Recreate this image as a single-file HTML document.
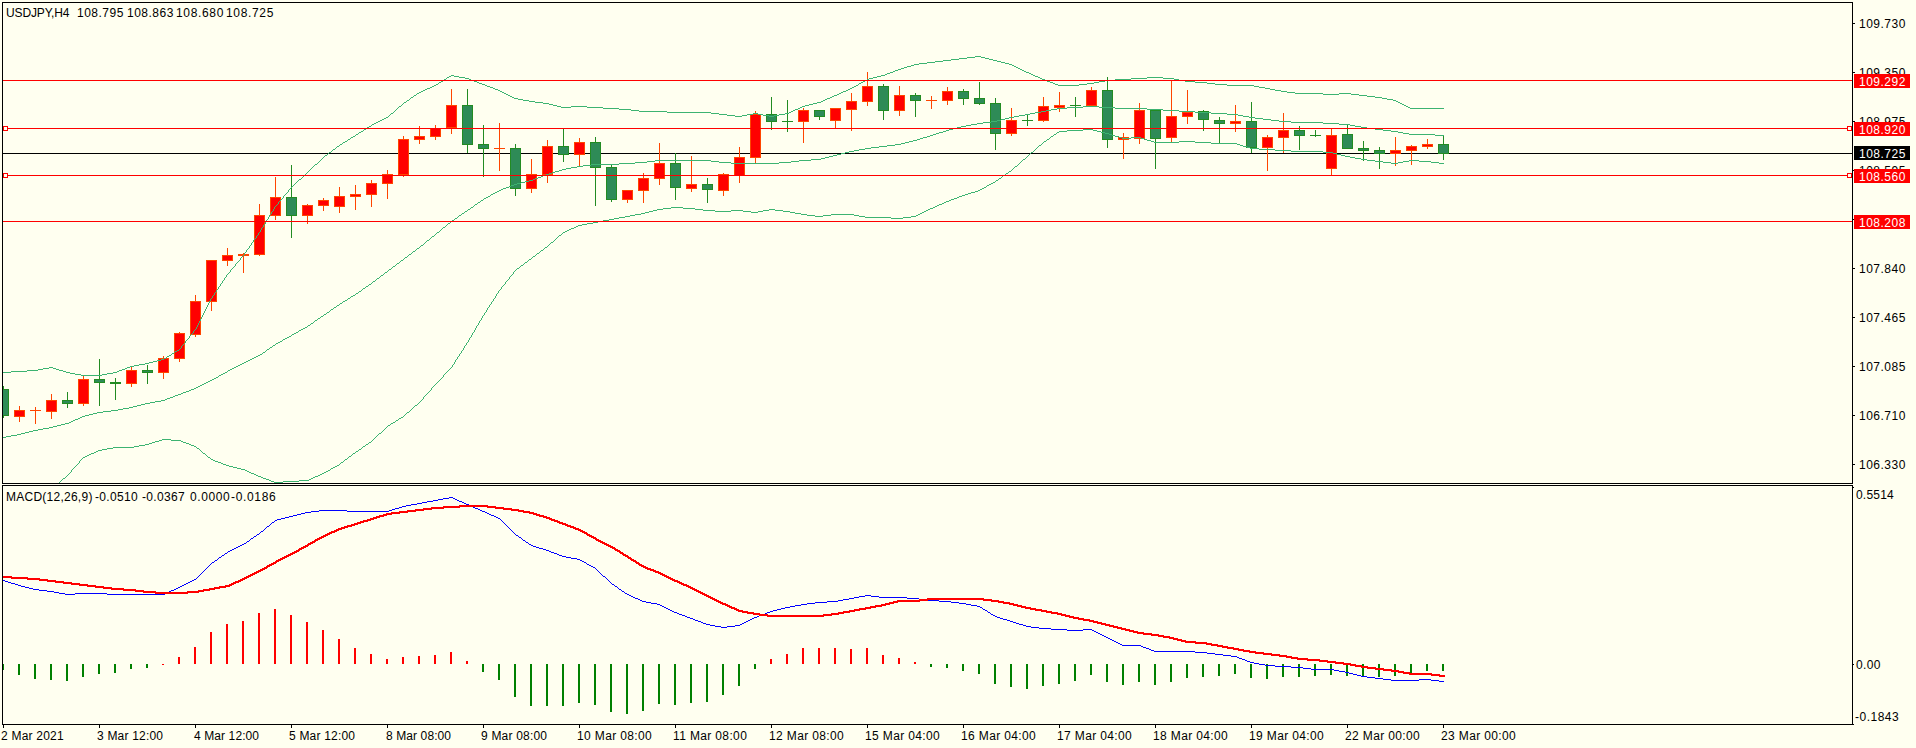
<!DOCTYPE html>
<html><head><meta charset="utf-8"><style>
html,body{margin:0;padding:0;background:#FFFFF0;overflow:hidden;}
svg{display:block;}
text{font-family:"Liberation Sans", sans-serif;font-size:12px;}
</style></head><body>
<svg width="1916" height="748" viewBox="0 0 1916 748">
<rect x="0" y="0" width="1916" height="748" fill="#FFFFF0"/>
<defs>
<clipPath id="cm"><rect x="3" y="3" width="1849" height="480"/></clipPath>
<clipPath id="cs"><rect x="3" y="486" width="1849" height="238"/></clipPath>
</defs>

<g shape-rendering="crispEdges">
<rect x="3" y="153" width="1849" height="1" fill="#000000"/>
<rect x="3" y="386" width="1" height="32" fill="#228B22"/>
<rect x="3" y="389" width="6" height="27" fill="#228B22"/>
<rect x="3" y="390" width="5" height="25" fill="#2E8B57"/>
<rect x="19" y="406" width="1" height="16" fill="#FF4500"/>
<rect x="14" y="410" width="11" height="7" fill="#FF4500"/>
<rect x="15" y="411" width="9" height="5" fill="#FF0000"/>
<rect x="35" y="407" width="1" height="17" fill="#FF4500"/>
<rect x="30" y="410" width="11" height="1" fill="#FF4500"/>
<rect x="51" y="394" width="1" height="25" fill="#FF4500"/>
<rect x="46" y="400" width="11" height="12" fill="#FF4500"/>
<rect x="47" y="401" width="9" height="10" fill="#FF0000"/>
<rect x="67" y="392" width="1" height="16" fill="#228B22"/>
<rect x="62" y="400" width="11" height="4" fill="#228B22"/>
<rect x="63" y="401" width="9" height="2" fill="#2E8B57"/>
<rect x="83" y="376" width="1" height="30" fill="#FF4500"/>
<rect x="78" y="379" width="11" height="25" fill="#FF4500"/>
<rect x="79" y="380" width="9" height="23" fill="#FF0000"/>
<rect x="99" y="359" width="1" height="47" fill="#228B22"/>
<rect x="94" y="379" width="11" height="4" fill="#228B22"/>
<rect x="95" y="380" width="9" height="2" fill="#2E8B57"/>
<rect x="115" y="378" width="1" height="22" fill="#228B22"/>
<rect x="110" y="382" width="11" height="2" fill="#228B22"/>
<rect x="131" y="367" width="1" height="20" fill="#FF4500"/>
<rect x="126" y="370" width="11" height="14" fill="#FF4500"/>
<rect x="127" y="371" width="9" height="12" fill="#FF0000"/>
<rect x="147" y="365" width="1" height="19" fill="#228B22"/>
<rect x="142" y="370" width="11" height="3" fill="#228B22"/>
<rect x="143" y="371" width="9" height="1" fill="#2E8B57"/>
<rect x="163" y="356" width="1" height="23" fill="#FF4500"/>
<rect x="158" y="358" width="11" height="15" fill="#FF4500"/>
<rect x="159" y="359" width="9" height="13" fill="#FF0000"/>
<rect x="179" y="332" width="1" height="30" fill="#FF4500"/>
<rect x="174" y="333" width="11" height="26" fill="#FF4500"/>
<rect x="175" y="334" width="9" height="24" fill="#FF0000"/>
<rect x="195" y="295" width="1" height="42" fill="#FF4500"/>
<rect x="190" y="301" width="11" height="34" fill="#FF4500"/>
<rect x="191" y="302" width="9" height="32" fill="#FF0000"/>
<rect x="211" y="260" width="1" height="51" fill="#FF4500"/>
<rect x="206" y="260" width="11" height="42" fill="#FF4500"/>
<rect x="207" y="261" width="9" height="40" fill="#FF0000"/>
<rect x="227" y="248" width="1" height="18" fill="#FF4500"/>
<rect x="222" y="255" width="11" height="6" fill="#FF4500"/>
<rect x="223" y="256" width="9" height="4" fill="#FF0000"/>
<rect x="243" y="253" width="1" height="20" fill="#FF4500"/>
<rect x="238" y="254" width="11" height="2" fill="#FF4500"/>
<rect x="259" y="204" width="1" height="52" fill="#FF4500"/>
<rect x="254" y="215" width="11" height="40" fill="#FF4500"/>
<rect x="255" y="216" width="9" height="38" fill="#FF0000"/>
<rect x="275" y="177" width="1" height="43" fill="#FF4500"/>
<rect x="270" y="197" width="11" height="19" fill="#FF4500"/>
<rect x="271" y="198" width="9" height="17" fill="#FF0000"/>
<rect x="291" y="165" width="1" height="73" fill="#228B22"/>
<rect x="286" y="197" width="11" height="19" fill="#228B22"/>
<rect x="287" y="198" width="9" height="17" fill="#2E8B57"/>
<rect x="307" y="204" width="1" height="20" fill="#FF4500"/>
<rect x="302" y="205" width="11" height="11" fill="#FF4500"/>
<rect x="303" y="206" width="9" height="9" fill="#FF0000"/>
<rect x="323" y="198" width="1" height="13" fill="#FF4500"/>
<rect x="318" y="200" width="11" height="6" fill="#FF4500"/>
<rect x="319" y="201" width="9" height="4" fill="#FF0000"/>
<rect x="339" y="187" width="1" height="26" fill="#FF4500"/>
<rect x="334" y="196" width="11" height="11" fill="#FF4500"/>
<rect x="335" y="197" width="9" height="9" fill="#FF0000"/>
<rect x="355" y="185" width="1" height="25" fill="#FF4500"/>
<rect x="350" y="194" width="11" height="3" fill="#FF4500"/>
<rect x="351" y="195" width="9" height="1" fill="#FF0000"/>
<rect x="371" y="180" width="1" height="27" fill="#FF4500"/>
<rect x="366" y="183" width="11" height="12" fill="#FF4500"/>
<rect x="367" y="184" width="9" height="10" fill="#FF0000"/>
<rect x="387" y="170" width="1" height="29" fill="#FF4500"/>
<rect x="382" y="174" width="11" height="10" fill="#FF4500"/>
<rect x="383" y="175" width="9" height="8" fill="#FF0000"/>
<rect x="403" y="136" width="1" height="41" fill="#FF4500"/>
<rect x="398" y="139" width="11" height="36" fill="#FF4500"/>
<rect x="399" y="140" width="9" height="34" fill="#FF0000"/>
<rect x="419" y="126" width="1" height="18" fill="#FF4500"/>
<rect x="414" y="136" width="11" height="4" fill="#FF4500"/>
<rect x="415" y="137" width="9" height="2" fill="#FF0000"/>
<rect x="435" y="125" width="1" height="15" fill="#FF4500"/>
<rect x="430" y="128" width="11" height="9" fill="#FF4500"/>
<rect x="431" y="129" width="9" height="7" fill="#FF0000"/>
<rect x="451" y="89" width="1" height="45" fill="#FF4500"/>
<rect x="446" y="105" width="11" height="23" fill="#FF4500"/>
<rect x="447" y="106" width="9" height="21" fill="#FF0000"/>
<rect x="467" y="89" width="1" height="64" fill="#228B22"/>
<rect x="462" y="105" width="11" height="40" fill="#228B22"/>
<rect x="463" y="106" width="9" height="38" fill="#2E8B57"/>
<rect x="483" y="125" width="1" height="52" fill="#228B22"/>
<rect x="478" y="144" width="11" height="5" fill="#228B22"/>
<rect x="479" y="145" width="9" height="3" fill="#2E8B57"/>
<rect x="499" y="123" width="1" height="48" fill="#FF4500"/>
<rect x="494" y="148" width="11" height="1" fill="#FF4500"/>
<rect x="515" y="144" width="1" height="52" fill="#228B22"/>
<rect x="510" y="148" width="11" height="41" fill="#228B22"/>
<rect x="511" y="149" width="9" height="39" fill="#2E8B57"/>
<rect x="531" y="159" width="1" height="34" fill="#FF4500"/>
<rect x="526" y="174" width="11" height="15" fill="#FF4500"/>
<rect x="527" y="175" width="9" height="13" fill="#FF0000"/>
<rect x="547" y="140" width="1" height="43" fill="#FF4500"/>
<rect x="542" y="146" width="11" height="29" fill="#FF4500"/>
<rect x="543" y="147" width="9" height="27" fill="#FF0000"/>
<rect x="563" y="129" width="1" height="33" fill="#228B22"/>
<rect x="558" y="146" width="11" height="9" fill="#228B22"/>
<rect x="559" y="147" width="9" height="7" fill="#2E8B57"/>
<rect x="579" y="138" width="1" height="28" fill="#FF4500"/>
<rect x="574" y="142" width="11" height="13" fill="#FF4500"/>
<rect x="575" y="143" width="9" height="11" fill="#FF0000"/>
<rect x="595" y="137" width="1" height="69" fill="#228B22"/>
<rect x="590" y="142" width="11" height="26" fill="#228B22"/>
<rect x="591" y="143" width="9" height="24" fill="#2E8B57"/>
<rect x="611" y="165" width="1" height="37" fill="#228B22"/>
<rect x="606" y="167" width="11" height="33" fill="#228B22"/>
<rect x="607" y="168" width="9" height="31" fill="#2E8B57"/>
<rect x="627" y="190" width="1" height="13" fill="#FF4500"/>
<rect x="622" y="190" width="11" height="10" fill="#FF4500"/>
<rect x="623" y="191" width="9" height="8" fill="#FF0000"/>
<rect x="643" y="173" width="1" height="30" fill="#FF4500"/>
<rect x="638" y="178" width="11" height="13" fill="#FF4500"/>
<rect x="639" y="179" width="9" height="11" fill="#FF0000"/>
<rect x="659" y="143" width="1" height="42" fill="#FF4500"/>
<rect x="654" y="163" width="11" height="16" fill="#FF4500"/>
<rect x="655" y="164" width="9" height="14" fill="#FF0000"/>
<rect x="675" y="153" width="1" height="47" fill="#228B22"/>
<rect x="670" y="163" width="11" height="25" fill="#228B22"/>
<rect x="671" y="164" width="9" height="23" fill="#2E8B57"/>
<rect x="691" y="156" width="1" height="36" fill="#FF4500"/>
<rect x="686" y="184" width="11" height="5" fill="#FF4500"/>
<rect x="687" y="185" width="9" height="3" fill="#FF0000"/>
<rect x="707" y="178" width="1" height="25" fill="#228B22"/>
<rect x="702" y="184" width="11" height="6" fill="#228B22"/>
<rect x="703" y="185" width="9" height="4" fill="#2E8B57"/>
<rect x="723" y="173" width="1" height="23" fill="#FF4500"/>
<rect x="718" y="174" width="11" height="17" fill="#FF4500"/>
<rect x="719" y="175" width="9" height="15" fill="#FF0000"/>
<rect x="739" y="147" width="1" height="36" fill="#FF4500"/>
<rect x="734" y="157" width="11" height="19" fill="#FF4500"/>
<rect x="735" y="158" width="9" height="17" fill="#FF0000"/>
<rect x="755" y="111" width="1" height="52" fill="#FF4500"/>
<rect x="750" y="114" width="11" height="44" fill="#FF4500"/>
<rect x="751" y="115" width="9" height="42" fill="#FF0000"/>
<rect x="771" y="97" width="1" height="33" fill="#228B22"/>
<rect x="766" y="114" width="11" height="8" fill="#228B22"/>
<rect x="767" y="115" width="9" height="6" fill="#2E8B57"/>
<rect x="787" y="100" width="1" height="32" fill="#228B22"/>
<rect x="782" y="121" width="11" height="1" fill="#228B22"/>
<rect x="803" y="108" width="1" height="35" fill="#FF4500"/>
<rect x="798" y="110" width="11" height="12" fill="#FF4500"/>
<rect x="799" y="111" width="9" height="10" fill="#FF0000"/>
<rect x="819" y="110" width="1" height="10" fill="#228B22"/>
<rect x="814" y="110" width="11" height="7" fill="#228B22"/>
<rect x="815" y="111" width="9" height="5" fill="#2E8B57"/>
<rect x="835" y="108" width="1" height="20" fill="#FF4500"/>
<rect x="830" y="108" width="11" height="13" fill="#FF4500"/>
<rect x="831" y="109" width="9" height="11" fill="#FF0000"/>
<rect x="851" y="93" width="1" height="38" fill="#FF4500"/>
<rect x="846" y="101" width="11" height="9" fill="#FF4500"/>
<rect x="847" y="102" width="9" height="7" fill="#FF0000"/>
<rect x="867" y="72" width="1" height="34" fill="#FF4500"/>
<rect x="862" y="86" width="11" height="16" fill="#FF4500"/>
<rect x="863" y="87" width="9" height="14" fill="#FF0000"/>
<rect x="883" y="84" width="1" height="36" fill="#228B22"/>
<rect x="878" y="86" width="11" height="25" fill="#228B22"/>
<rect x="879" y="87" width="9" height="23" fill="#2E8B57"/>
<rect x="899" y="86" width="1" height="30" fill="#FF4500"/>
<rect x="894" y="95" width="11" height="16" fill="#FF4500"/>
<rect x="895" y="96" width="9" height="14" fill="#FF0000"/>
<rect x="915" y="93" width="1" height="24" fill="#228B22"/>
<rect x="910" y="95" width="11" height="6" fill="#228B22"/>
<rect x="911" y="96" width="9" height="4" fill="#2E8B57"/>
<rect x="931" y="96" width="1" height="13" fill="#FF4500"/>
<rect x="926" y="100" width="11" height="1" fill="#FF4500"/>
<rect x="947" y="87" width="1" height="18" fill="#FF4500"/>
<rect x="942" y="91" width="11" height="10" fill="#FF4500"/>
<rect x="943" y="92" width="9" height="8" fill="#FF0000"/>
<rect x="963" y="89" width="1" height="16" fill="#228B22"/>
<rect x="958" y="91" width="11" height="8" fill="#228B22"/>
<rect x="959" y="92" width="9" height="6" fill="#2E8B57"/>
<rect x="979" y="82" width="1" height="23" fill="#228B22"/>
<rect x="974" y="98" width="11" height="6" fill="#228B22"/>
<rect x="975" y="99" width="9" height="4" fill="#2E8B57"/>
<rect x="995" y="98" width="1" height="52" fill="#228B22"/>
<rect x="990" y="103" width="11" height="31" fill="#228B22"/>
<rect x="991" y="104" width="9" height="29" fill="#2E8B57"/>
<rect x="1011" y="108" width="1" height="28" fill="#FF4500"/>
<rect x="1006" y="120" width="11" height="14" fill="#FF4500"/>
<rect x="1007" y="121" width="9" height="12" fill="#FF0000"/>
<rect x="1027" y="114" width="1" height="12" fill="#228B22"/>
<rect x="1022" y="120" width="11" height="1" fill="#228B22"/>
<rect x="1043" y="97" width="1" height="25" fill="#FF4500"/>
<rect x="1038" y="106" width="11" height="15" fill="#FF4500"/>
<rect x="1039" y="107" width="9" height="13" fill="#FF0000"/>
<rect x="1059" y="92" width="1" height="20" fill="#FF4500"/>
<rect x="1054" y="105" width="11" height="3" fill="#FF4500"/>
<rect x="1055" y="106" width="9" height="1" fill="#FF0000"/>
<rect x="1075" y="97" width="1" height="20" fill="#228B22"/>
<rect x="1070" y="105" width="11" height="1" fill="#228B22"/>
<rect x="1091" y="87" width="1" height="19" fill="#FF4500"/>
<rect x="1086" y="90" width="11" height="16" fill="#FF4500"/>
<rect x="1087" y="91" width="9" height="14" fill="#FF0000"/>
<rect x="1107" y="77" width="1" height="71" fill="#228B22"/>
<rect x="1102" y="90" width="11" height="50" fill="#228B22"/>
<rect x="1103" y="91" width="9" height="48" fill="#2E8B57"/>
<rect x="1123" y="133" width="1" height="26" fill="#FF4500"/>
<rect x="1118" y="137" width="11" height="3" fill="#FF4500"/>
<rect x="1119" y="138" width="9" height="1" fill="#FF0000"/>
<rect x="1139" y="103" width="1" height="41" fill="#FF4500"/>
<rect x="1134" y="110" width="11" height="29" fill="#FF4500"/>
<rect x="1135" y="111" width="9" height="27" fill="#FF0000"/>
<rect x="1155" y="110" width="1" height="59" fill="#228B22"/>
<rect x="1150" y="110" width="11" height="29" fill="#228B22"/>
<rect x="1151" y="111" width="9" height="27" fill="#2E8B57"/>
<rect x="1171" y="80" width="1" height="62" fill="#FF4500"/>
<rect x="1166" y="116" width="11" height="22" fill="#FF4500"/>
<rect x="1167" y="117" width="9" height="20" fill="#FF0000"/>
<rect x="1187" y="90" width="1" height="34" fill="#FF4500"/>
<rect x="1182" y="112" width="11" height="5" fill="#FF4500"/>
<rect x="1183" y="113" width="9" height="3" fill="#FF0000"/>
<rect x="1203" y="110" width="1" height="21" fill="#228B22"/>
<rect x="1198" y="111" width="11" height="9" fill="#228B22"/>
<rect x="1199" y="112" width="9" height="7" fill="#2E8B57"/>
<rect x="1219" y="117" width="1" height="26" fill="#228B22"/>
<rect x="1214" y="120" width="11" height="4" fill="#228B22"/>
<rect x="1215" y="121" width="9" height="2" fill="#2E8B57"/>
<rect x="1235" y="105" width="1" height="27" fill="#FF4500"/>
<rect x="1230" y="121" width="11" height="3" fill="#FF4500"/>
<rect x="1231" y="122" width="9" height="1" fill="#FF0000"/>
<rect x="1251" y="102" width="1" height="51" fill="#228B22"/>
<rect x="1246" y="121" width="11" height="27" fill="#228B22"/>
<rect x="1247" y="122" width="9" height="25" fill="#2E8B57"/>
<rect x="1267" y="135" width="1" height="36" fill="#FF4500"/>
<rect x="1262" y="137" width="11" height="11" fill="#FF4500"/>
<rect x="1263" y="138" width="9" height="9" fill="#FF0000"/>
<rect x="1283" y="113" width="1" height="40" fill="#FF4500"/>
<rect x="1278" y="130" width="11" height="8" fill="#FF4500"/>
<rect x="1279" y="131" width="9" height="6" fill="#FF0000"/>
<rect x="1299" y="126" width="1" height="24" fill="#228B22"/>
<rect x="1294" y="130" width="11" height="6" fill="#228B22"/>
<rect x="1295" y="131" width="9" height="4" fill="#2E8B57"/>
<rect x="1315" y="130" width="1" height="7" fill="#228B22"/>
<rect x="1310" y="135" width="11" height="1" fill="#228B22"/>
<rect x="1331" y="129" width="1" height="46" fill="#FF4500"/>
<rect x="1326" y="135" width="11" height="34" fill="#FF4500"/>
<rect x="1327" y="136" width="9" height="32" fill="#FF0000"/>
<rect x="1347" y="124" width="1" height="25" fill="#228B22"/>
<rect x="1342" y="134" width="11" height="15" fill="#228B22"/>
<rect x="1343" y="135" width="9" height="13" fill="#2E8B57"/>
<rect x="1363" y="141" width="1" height="20" fill="#228B22"/>
<rect x="1358" y="148" width="11" height="3" fill="#228B22"/>
<rect x="1359" y="149" width="9" height="1" fill="#2E8B57"/>
<rect x="1379" y="147" width="1" height="22" fill="#228B22"/>
<rect x="1374" y="150" width="11" height="4" fill="#228B22"/>
<rect x="1375" y="151" width="9" height="2" fill="#2E8B57"/>
<rect x="1395" y="137" width="1" height="29" fill="#FF4500"/>
<rect x="1390" y="150" width="11" height="4" fill="#FF4500"/>
<rect x="1391" y="151" width="9" height="2" fill="#FF0000"/>
<rect x="1411" y="145" width="1" height="20" fill="#FF4500"/>
<rect x="1406" y="146" width="11" height="5" fill="#FF4500"/>
<rect x="1407" y="147" width="9" height="3" fill="#FF0000"/>
<rect x="1427" y="139" width="1" height="10" fill="#FF4500"/>
<rect x="1422" y="144" width="11" height="3" fill="#FF4500"/>
<rect x="1423" y="145" width="9" height="1" fill="#FF0000"/>
<rect x="1443" y="136" width="1" height="24" fill="#228B22"/>
<rect x="1438" y="144" width="11" height="10" fill="#228B22"/>
<rect x="1439" y="145" width="9" height="8" fill="#2E8B57"/>
<path fill="#3CB371" d="M975 56h6v1h-6zM967 57h8v1h-8zM981 57h4v1h-4zM959 58h8v1h-8zM985 58h4v1h-4zM951 59h8v1h-8zM989 59h4v1h-4zM943 60h8v1h-8zM993 60h4v1h-4zM935 61h8v1h-8zM997 61h4v1h-4zM927 62h8v1h-8zM1001 62h4v1h-4zM919 63h8v1h-8zM1005 63h4v1h-4zM914 64h5v1h-5zM1009 64h3v1h-3zM911 65h3v1h-3zM1012 65h2v1h-2zM907 66h4v1h-4zM1014 66h2v1h-2zM904 67h3v1h-3zM1016 67h2v1h-2zM901 68h3v1h-3zM1018 68h2v1h-2zM898 69h3v1h-3zM1020 69h2v1h-2zM895 70h3v1h-3zM1022 70h2v1h-2zM893 71h2v1h-2zM1024 71h2v1h-2zM890 72h3v1h-3zM1026 72h3v1h-3zM887 73h3v1h-3zM1029 73h2v1h-2zM885 74h2v1h-2zM1031 74h2v1h-2zM451 75h3v1h-3zM881 75h4v1h-4zM1033 75h2v1h-2zM449 76h2v1h-2zM454 76h5v1h-5zM877 76h4v1h-4zM1035 76h3v1h-3zM447 77h2v1h-2zM459 77h6v1h-6zM873 77h4v1h-4zM1038 77h2v1h-2zM1147 77h16v1h-16zM446 78h1v1h-1zM465 78h4v1h-4zM869 78h4v1h-4zM1040 78h2v1h-2zM1131 78h16v1h-16zM1163 78h11v1h-11zM444 79h2v1h-2zM469 79h2v1h-2zM867 79h2v1h-2zM1042 79h3v1h-3zM1115 79h16v1h-16zM1174 79h5v1h-5zM443 80h1v1h-1zM471 80h3v1h-3zM865 80h2v1h-2zM1045 80h2v1h-2zM1105 80h10v1h-10zM1179 80h6v1h-6zM441 81h2v1h-2zM474 81h3v1h-3zM863 81h2v1h-2zM1047 81h3v1h-3zM1099 81h6v1h-6zM1185 81h10v1h-10zM439 82h2v1h-2zM477 82h2v1h-2zM861 82h2v1h-2zM1050 82h3v1h-3zM1094 82h5v1h-5zM1195 82h12v1h-12zM438 83h1v1h-1zM479 83h3v1h-3zM859 83h2v1h-2zM1053 83h2v1h-2zM1087 83h7v1h-7zM1207 83h8v1h-8zM436 84h2v1h-2zM482 84h3v1h-3zM858 84h1v1h-1zM1055 84h3v1h-3zM1079 84h8v1h-8zM1215 84h12v1h-12zM434 85h2v1h-2zM485 85h2v1h-2zM856 85h2v1h-2zM1058 85h21v1h-21zM1227 85h27v1h-27zM432 86h2v1h-2zM487 86h3v1h-3zM854 86h2v1h-2zM1254 86h5v1h-5zM430 87h2v1h-2zM490 87h3v1h-3zM852 87h2v1h-2zM1259 87h6v1h-6zM427 88h3v1h-3zM493 88h2v1h-2zM850 88h2v1h-2zM1265 88h5v1h-5zM425 89h2v1h-2zM495 89h3v1h-3zM848 89h2v1h-2zM1270 89h5v1h-5zM423 90h2v1h-2zM498 90h2v1h-2zM846 90h2v1h-2zM1275 90h6v1h-6zM421 91h2v1h-2zM500 91h2v1h-2zM843 91h3v1h-3zM1281 91h6v1h-6zM419 92h2v1h-2zM502 92h2v1h-2zM841 92h2v1h-2zM1287 92h8v1h-8zM417 93h2v1h-2zM504 93h2v1h-2zM839 93h2v1h-2zM1295 93h28v1h-28zM1339 93h12v1h-12zM416 94h1v1h-1zM506 94h2v1h-2zM837 94h2v1h-2zM1323 94h16v1h-16zM1351 94h8v1h-8zM414 95h2v1h-2zM508 95h2v1h-2zM834 95h3v1h-3zM1359 95h8v1h-8zM413 96h1v1h-1zM510 96h2v1h-2zM832 96h2v1h-2zM1367 96h8v1h-8zM411 97h2v1h-2zM512 97h2v1h-2zM830 97h2v1h-2zM1375 97h7v1h-7zM410 98h1v1h-1zM514 98h4v1h-4zM827 98h3v1h-3zM1382 98h5v1h-5zM409 99h1v1h-1zM518 99h5v1h-5zM825 99h2v1h-2zM1387 99h6v1h-6zM407 100h2v1h-2zM523 100h6v1h-6zM823 100h2v1h-2zM1393 100h3v1h-3zM406 101h1v1h-1zM529 101h6v1h-6zM821 101h2v1h-2zM1396 101h2v1h-2zM404 102h2v1h-2zM535 102h8v1h-8zM817 102h4v1h-4zM1398 102h2v1h-2zM403 103h1v1h-1zM543 103h6v1h-6zM813 103h4v1h-4zM1400 103h2v1h-2zM402 104h1v1h-1zM549 104h4v1h-4zM809 104h4v1h-4zM1402 104h2v1h-2zM401 105h1v1h-1zM553 105h4v1h-4zM805 105h4v1h-4zM1404 105h2v1h-2zM399 106h2v1h-2zM557 106h4v1h-4zM571 106h16v1h-16zM802 106h3v1h-3zM1406 106h2v1h-2zM398 107h1v1h-1zM561 107h10v1h-10zM587 107h16v1h-16zM800 107h2v1h-2zM1408 107h2v1h-2zM397 108h1v1h-1zM603 108h16v1h-16zM798 108h2v1h-2zM1410 108h34v1h-34zM396 109h1v1h-1zM619 109h12v1h-12zM795 109h3v1h-3zM395 110h1v1h-1zM631 110h8v1h-8zM793 110h2v1h-2zM394 111h1v1h-1zM639 111h28v1h-28zM791 111h2v1h-2zM393 112h1v1h-1zM667 112h44v1h-44zM789 112h2v1h-2zM391 113h2v1h-2zM711 113h8v1h-8zM753 113h5v1h-5zM785 113h4v1h-4zM390 114h1v1h-1zM719 114h8v1h-8zM747 114h6v1h-6zM758 114h5v1h-5zM779 114h6v1h-6zM389 115h1v1h-1zM727 115h8v1h-8zM742 115h5v1h-5zM763 115h6v1h-6zM774 115h5v1h-5zM388 116h1v1h-1zM735 116h7v1h-7zM769 116h5v1h-5zM386 117h2v1h-2zM384 118h2v1h-2zM382 119h2v1h-2zM380 120h2v1h-2zM378 121h2v1h-2zM376 122h2v1h-2zM374 123h2v1h-2zM372 124h2v1h-2zM371 125h1v1h-1zM369 126h2v1h-2zM367 127h2v1h-2zM366 128h1v1h-1zM364 129h2v1h-2zM363 130h1v1h-1zM361 131h2v1h-2zM359 132h2v1h-2zM358 133h1v1h-1zM356 134h2v1h-2zM355 135h1v1h-1zM353 136h2v1h-2zM351 137h2v1h-2zM350 138h1v1h-1zM348 139h2v1h-2zM347 140h1v1h-1zM345 141h2v1h-2zM343 142h2v1h-2zM342 143h1v1h-1zM340 144h2v1h-2zM339 145h1v1h-1zM337 146h2v1h-2zM336 147h1v1h-1zM335 148h1v1h-1zM333 149h2v1h-2zM332 150h1v1h-1zM331 151h1v1h-1zM329 152h2v1h-2zM328 153h1v1h-1zM327 154h1v1h-1zM325 155h2v1h-2zM324 156h1v1h-1zM323 157h1v1h-1zM322 158h1v1h-1zM321 159h1v1h-1zM320 160h1v1h-1zM319 161h1v1h-1zM318 162h1v1h-1zM317 163h1v1h-1zM315 164h2v1h-2zM314 165h1v1h-1zM313 166h1v1h-1zM312 167h1v1h-1zM311 168h1v1h-1zM310 169h1v1h-1zM309 170h1v1h-1zM308 171h1v1h-1zM307 172h1v1h-1zM306 173h1v1h-1zM305 174h1v1h-1zM304 175h1v1h-1zM303 176h1v1h-1zM302 177h1v1h-1zM301 178h1v1h-1zM299 179h2v1h-2zM298 180h1v1h-1zM297 181h1v1h-1zM296 182h1v1h-1zM295 183h1v1h-1zM294 184h1v1h-1zM293 185h1v1h-1zM292 186h1v1h-1zM291 187h1v1h-1zM290 188h1v1h-1zM289 189h1v1h-1zM288 190h1v1h-1zM288 191h1v1h-1zM287 192h1v1h-1zM286 193h1v1h-1zM285 194h1v1h-1zM284 195h1v1h-1zM283 196h1v1h-1zM283 197h1v1h-1zM282 198h1v1h-1zM281 199h1v1h-1zM280 200h1v1h-1zM279 201h1v1h-1zM278 202h1v1h-1zM278 203h1v1h-1zM277 204h1v1h-1zM276 205h1v1h-1zM275 206h1v1h-1zM274 207h1v1h-1zM274 208h1v1h-1zM273 209h1v1h-1zM273 210h1v1h-1zM272 211h1v1h-1zM271 212h1v1h-1zM271 213h1v1h-1zM270 214h1v1h-1zM269 215h1v1h-1zM269 216h1v1h-1zM268 217h1v1h-1zM268 218h1v1h-1zM267 219h1v1h-1zM266 220h1v1h-1zM266 221h1v1h-1zM265 222h1v1h-1zM265 223h1v1h-1zM264 224h1v1h-1zM263 225h1v1h-1zM263 226h1v1h-1zM262 227h1v1h-1zM261 228h1v1h-1zM261 229h1v1h-1zM260 230h1v1h-1zM260 231h1v1h-1zM259 232h1v1h-1zM258 233h1v1h-1zM258 234h1v1h-1zM257 235h1v1h-1zM256 236h1v1h-1zM256 237h1v1h-1zM255 238h1v1h-1zM254 239h1v1h-1zM253 240h1v1h-1zM253 241h1v1h-1zM252 242h1v1h-1zM251 243h1v1h-1zM251 244h1v1h-1zM250 245h1v1h-1zM249 246h1v1h-1zM249 247h1v1h-1zM248 248h1v1h-1zM247 249h1v1h-1zM246 250h1v1h-1zM246 251h1v1h-1zM245 252h1v1h-1zM244 253h1v1h-1zM244 254h1v1h-1zM243 255h1v1h-1zM242 256h1v1h-1zM241 257h1v1h-1zM240 258h1v1h-1zM240 259h1v1h-1zM239 260h1v1h-1zM238 261h1v1h-1zM237 262h1v1h-1zM236 263h1v1h-1zM235 264h1v1h-1zM235 265h1v1h-1zM234 266h1v1h-1zM233 267h1v1h-1zM232 268h1v1h-1zM231 269h1v1h-1zM230 270h1v1h-1zM230 271h1v1h-1zM229 272h1v1h-1zM228 273h1v1h-1zM227 274h1v1h-1zM226 275h1v1h-1zM226 276h1v1h-1zM225 277h1v1h-1zM224 278h1v1h-1zM224 279h1v1h-1zM223 280h1v1h-1zM222 281h1v1h-1zM222 282h1v1h-1zM221 283h1v1h-1zM220 284h1v1h-1zM220 285h1v1h-1zM219 286h1v1h-1zM218 287h1v1h-1zM218 288h1v1h-1zM217 289h1v1h-1zM216 290h1v1h-1zM216 291h1v1h-1zM215 292h1v1h-1zM214 293h1v1h-1zM214 294h1v1h-1zM213 295h1v1h-1zM212 296h1v1h-1zM212 297h1v1h-1zM211 298h1v1h-1zM210 299h1v1h-1zM210 300h1v1h-1zM209 301h1v1h-1zM209 302h1v1h-1zM208 303h1v1h-1zM208 304h1v1h-1zM207 305h1v1h-1zM207 306h1v1h-1zM206 307h1v1h-1zM206 308h1v1h-1zM205 309h1v1h-1zM205 310h1v1h-1zM204 311h1v1h-1zM204 312h1v1h-1zM203 313h1v1h-1zM203 314h1v1h-1zM202 315h1v1h-1zM202 316h1v1h-1zM201 317h1v1h-1zM201 318h1v1h-1zM200 319h1v1h-1zM200 320h1v1h-1zM199 321h1v1h-1zM199 322h1v1h-1zM198 323h1v1h-1zM198 324h1v1h-1zM197 325h1v1h-1zM197 326h1v1h-1zM196 327h1v1h-1zM196 328h1v1h-1zM195 329h1v1h-1zM194 330h1v1h-1zM193 331h1v1h-1zM193 332h1v1h-1zM192 333h1v1h-1zM191 334h1v1h-1zM190 335h1v1h-1zM189 336h1v1h-1zM189 337h1v1h-1zM188 338h1v1h-1zM187 339h1v1h-1zM186 340h1v1h-1zM185 341h1v1h-1zM185 342h1v1h-1zM184 343h1v1h-1zM183 344h1v1h-1zM182 345h1v1h-1zM181 346h1v1h-1zM181 347h1v1h-1zM180 348h1v1h-1zM179 349h1v1h-1zM177 350h2v1h-2zM175 351h2v1h-2zM174 352h1v1h-1zM172 353h2v1h-2zM171 354h1v1h-1zM169 355h2v1h-2zM167 356h2v1h-2zM166 357h1v1h-1zM164 358h2v1h-2zM161 359h3v1h-3zM157 360h4v1h-4zM153 361h4v1h-4zM149 362h4v1h-4zM145 363h4v1h-4zM139 364h6v1h-6zM134 365h5v1h-5zM130 366h4v1h-4zM49 367h4v1h-4zM127 367h3v1h-3zM43 368h6v1h-6zM53 368h3v1h-3zM125 368h2v1h-2zM38 369h5v1h-5zM56 369h3v1h-3zM122 369h3v1h-3zM27 370h11v1h-11zM59 370h4v1h-4zM119 370h3v1h-3zM11 371h16v1h-16zM63 371h3v1h-3zM117 371h2v1h-2zM3 372h8v1h-8zM66 372h4v1h-4zM113 372h4v1h-4zM70 373h5v1h-5zM107 373h6v1h-6zM75 374h6v1h-6zM102 374h5v1h-5zM81 375h21v1h-21z"/>
<path fill="#3CB371" d="M1083 106h16v1h-16zM1067 107h16v1h-16zM1099 107h16v1h-16zM1057 108h10v1h-10zM1115 108h32v1h-32zM1051 109h6v1h-6zM1147 109h16v1h-16zM1046 110h5v1h-5zM1163 110h16v1h-16zM1041 111h5v1h-5zM1179 111h16v1h-16zM1035 112h6v1h-6zM1195 112h16v1h-16zM1030 113h5v1h-5zM1211 113h16v1h-16zM1025 114h5v1h-5zM1227 114h11v1h-11zM1019 115h6v1h-6zM1238 115h5v1h-5zM1014 116h5v1h-5zM1243 116h6v1h-6zM1009 117h5v1h-5zM1249 117h6v1h-6zM1005 118h4v1h-4zM1255 118h8v1h-8zM1001 119h4v1h-4zM1263 119h8v1h-8zM997 120h4v1h-4zM1271 120h8v1h-8zM991 121h6v1h-6zM1279 121h12v1h-12zM983 122h8v1h-8zM1291 122h32v1h-32zM977 123h6v1h-6zM1323 123h16v1h-16zM971 124h6v1h-6zM1339 124h11v1h-11zM966 125h5v1h-5zM1350 125h5v1h-5zM961 126h5v1h-5zM1355 126h6v1h-6zM957 127h4v1h-4zM1361 127h6v1h-6zM953 128h4v1h-4zM1367 128h8v1h-8zM949 129h4v1h-4zM1375 129h8v1h-8zM946 130h3v1h-3zM1383 130h8v1h-8zM943 131h3v1h-3zM1391 131h7v1h-7zM939 132h4v1h-4zM1398 132h5v1h-5zM936 133h3v1h-3zM1403 133h6v1h-6zM933 134h3v1h-3zM1409 134h26v1h-26zM930 135h3v1h-3zM1435 135h9v1h-9zM927 136h3v1h-3zM923 137h4v1h-4zM920 138h3v1h-3zM917 139h3v1h-3zM913 140h4v1h-4zM909 141h4v1h-4zM905 142h4v1h-4zM901 143h4v1h-4zM895 144h6v1h-6zM887 145h8v1h-8zM879 146h8v1h-8zM871 147h8v1h-8zM865 148h6v1h-6zM859 149h6v1h-6zM854 150h5v1h-5zM849 151h5v1h-5zM845 152h4v1h-4zM841 153h4v1h-4zM837 154h4v1h-4zM833 155h4v1h-4zM829 156h4v1h-4zM825 157h4v1h-4zM821 158h4v1h-4zM811 159h10v1h-10zM655 160h56v1h-56zM799 160h12v1h-12zM647 161h8v1h-8zM711 161h8v1h-8zM791 161h8v1h-8zM635 162h12v1h-12zM719 162h12v1h-12zM779 162h12v1h-12zM619 163h16v1h-16zM731 163h48v1h-48zM591 164h28v1h-28zM583 165h8v1h-8zM577 166h6v1h-6zM571 167h6v1h-6zM566 168h5v1h-5zM562 169h4v1h-4zM559 170h3v1h-3zM555 171h4v1h-4zM552 172h3v1h-3zM549 173h3v1h-3zM546 174h3v1h-3zM543 175h3v1h-3zM541 176h2v1h-2zM538 177h3v1h-3zM535 178h3v1h-3zM533 179h2v1h-2zM529 180h4v1h-4zM525 181h4v1h-4zM521 182h4v1h-4zM517 183h4v1h-4zM514 184h3v1h-3zM511 185h3v1h-3zM509 186h2v1h-2zM506 187h3v1h-3zM503 188h3v1h-3zM501 189h2v1h-2zM499 190h2v1h-2zM497 191h2v1h-2zM495 192h2v1h-2zM493 193h2v1h-2zM491 194h2v1h-2zM490 195h1v1h-1zM488 196h2v1h-2zM486 197h2v1h-2zM484 198h2v1h-2zM483 199h1v1h-1zM481 200h2v1h-2zM480 201h1v1h-1zM478 202h2v1h-2zM477 203h1v1h-1zM475 204h2v1h-2zM474 205h1v1h-1zM473 206h1v1h-1zM471 207h2v1h-2zM470 208h1v1h-1zM468 209h2v1h-2zM467 210h1v1h-1zM465 211h2v1h-2zM464 212h1v1h-1zM462 213h2v1h-2zM461 214h1v1h-1zM459 215h2v1h-2zM458 216h1v1h-1zM457 217h1v1h-1zM455 218h2v1h-2zM454 219h1v1h-1zM452 220h2v1h-2zM451 221h1v1h-1zM450 222h1v1h-1zM448 223h2v1h-2zM447 224h1v1h-1zM446 225h1v1h-1zM445 226h1v1h-1zM443 227h2v1h-2zM442 228h1v1h-1zM441 229h1v1h-1zM440 230h1v1h-1zM439 231h1v1h-1zM437 232h2v1h-2zM436 233h1v1h-1zM435 234h1v1h-1zM434 235h1v1h-1zM432 236h2v1h-2zM431 237h1v1h-1zM430 238h1v1h-1zM429 239h1v1h-1zM427 240h2v1h-2zM426 241h1v1h-1zM425 242h1v1h-1zM424 243h1v1h-1zM423 244h1v1h-1zM421 245h2v1h-2zM420 246h1v1h-1zM419 247h1v1h-1zM417 248h2v1h-2zM416 249h1v1h-1zM415 250h1v1h-1zM413 251h2v1h-2zM412 252h1v1h-1zM411 253h1v1h-1zM409 254h2v1h-2zM408 255h1v1h-1zM407 256h1v1h-1zM405 257h2v1h-2zM404 258h1v1h-1zM403 259h1v1h-1zM401 260h2v1h-2zM400 261h1v1h-1zM399 262h1v1h-1zM397 263h2v1h-2zM396 264h1v1h-1zM395 265h1v1h-1zM393 266h2v1h-2zM392 267h1v1h-1zM391 268h1v1h-1zM389 269h2v1h-2zM388 270h1v1h-1zM387 271h1v1h-1zM385 272h2v1h-2zM384 273h1v1h-1zM383 274h1v1h-1zM381 275h2v1h-2zM380 276h1v1h-1zM379 277h1v1h-1zM377 278h2v1h-2zM376 279h1v1h-1zM375 280h1v1h-1zM373 281h2v1h-2zM372 282h1v1h-1zM371 283h1v1h-1zM369 284h2v1h-2zM368 285h1v1h-1zM366 286h2v1h-2zM365 287h1v1h-1zM363 288h2v1h-2zM362 289h1v1h-1zM361 290h1v1h-1zM359 291h2v1h-2zM358 292h1v1h-1zM356 293h2v1h-2zM355 294h1v1h-1zM353 295h2v1h-2zM351 296h2v1h-2zM350 297h1v1h-1zM348 298h2v1h-2zM347 299h1v1h-1zM345 300h2v1h-2zM343 301h2v1h-2zM342 302h1v1h-1zM340 303h2v1h-2zM339 304h1v1h-1zM337 305h2v1h-2zM336 306h1v1h-1zM334 307h2v1h-2zM333 308h1v1h-1zM331 309h2v1h-2zM330 310h1v1h-1zM329 311h1v1h-1zM327 312h2v1h-2zM326 313h1v1h-1zM324 314h2v1h-2zM323 315h1v1h-1zM321 316h2v1h-2zM320 317h1v1h-1zM318 318h2v1h-2zM317 319h1v1h-1zM315 320h2v1h-2zM314 321h1v1h-1zM313 322h1v1h-1zM311 323h2v1h-2zM310 324h1v1h-1zM308 325h2v1h-2zM307 326h1v1h-1zM305 327h2v1h-2zM303 328h2v1h-2zM301 329h2v1h-2zM299 330h2v1h-2zM298 331h1v1h-1zM296 332h2v1h-2zM294 333h2v1h-2zM292 334h2v1h-2zM291 335h1v1h-1zM289 336h2v1h-2zM287 337h2v1h-2zM285 338h2v1h-2zM283 339h2v1h-2zM282 340h1v1h-1zM280 341h2v1h-2zM278 342h2v1h-2zM276 343h2v1h-2zM275 344h1v1h-1zM273 345h2v1h-2zM272 346h1v1h-1zM270 347h2v1h-2zM269 348h1v1h-1zM267 349h2v1h-2zM266 350h1v1h-1zM265 351h1v1h-1zM263 352h2v1h-2zM262 353h1v1h-1zM260 354h2v1h-2zM258 355h2v1h-2zM256 356h2v1h-2zM254 357h2v1h-2zM252 358h2v1h-2zM250 359h2v1h-2zM248 360h2v1h-2zM246 361h2v1h-2zM244 362h2v1h-2zM242 363h2v1h-2zM240 364h2v1h-2zM238 365h2v1h-2zM236 366h2v1h-2zM234 367h2v1h-2zM232 368h2v1h-2zM230 369h2v1h-2zM228 370h2v1h-2zM227 371h1v1h-1zM225 372h2v1h-2zM223 373h2v1h-2zM221 374h2v1h-2zM219 375h2v1h-2zM218 376h1v1h-1zM216 377h2v1h-2zM214 378h2v1h-2zM212 379h2v1h-2zM210 380h2v1h-2zM208 381h2v1h-2zM206 382h2v1h-2zM204 383h2v1h-2zM202 384h2v1h-2zM200 385h2v1h-2zM198 386h2v1h-2zM196 387h2v1h-2zM194 388h2v1h-2zM191 389h3v1h-3zM189 390h2v1h-2zM186 391h3v1h-3zM183 392h3v1h-3zM181 393h2v1h-2zM178 394h3v1h-3zM175 395h3v1h-3zM173 396h2v1h-2zM170 397h3v1h-3zM167 398h3v1h-3zM165 399h2v1h-2zM161 400h4v1h-4zM155 401h6v1h-6zM150 402h5v1h-5zM145 403h5v1h-5zM141 404h4v1h-4zM137 405h4v1h-4zM133 406h4v1h-4zM129 407h4v1h-4zM123 408h6v1h-6zM118 409h5v1h-5zM111 410h7v1h-7zM103 411h8v1h-8zM97 412h6v1h-6zM93 413h4v1h-4zM89 414h4v1h-4zM85 415h4v1h-4zM82 416h3v1h-3zM80 417h2v1h-2zM78 418h2v1h-2zM75 419h3v1h-3zM73 420h2v1h-2zM71 421h2v1h-2zM69 422h2v1h-2zM65 423h4v1h-4zM61 424h4v1h-4zM57 425h4v1h-4zM53 426h4v1h-4zM49 427h4v1h-4zM43 428h6v1h-6zM38 429h5v1h-5zM33 430h5v1h-5zM29 431h4v1h-4zM25 432h4v1h-4zM21 433h4v1h-4zM17 434h4v1h-4zM11 435h6v1h-6zM6 436h5v1h-5zM3 437h3v1h-3z"/>
<path fill="#3CB371" d="M1083 129h10v1h-10zM1067 130h16v1h-16zM1093 130h4v1h-4zM1059 131h8v1h-8zM1097 131h4v1h-4zM1057 132h2v1h-2zM1101 132h4v1h-4zM1056 133h1v1h-1zM1105 133h4v1h-4zM1054 134h2v1h-2zM1109 134h3v1h-3zM1053 135h1v1h-1zM1112 135h3v1h-3zM1051 136h2v1h-2zM1115 136h4v1h-4zM1050 137h1v1h-1zM1119 137h3v1h-3zM1131 137h10v1h-10zM1049 138h1v1h-1zM1122 138h9v1h-9zM1141 138h3v1h-3zM1047 139h2v1h-2zM1144 139h3v1h-3zM1046 140h1v1h-1zM1147 140h4v1h-4zM1044 141h2v1h-2zM1151 141h3v1h-3zM1179 141h16v1h-16zM1043 142h1v1h-1zM1154 142h25v1h-25zM1195 142h16v1h-16zM1042 143h1v1h-1zM1211 143h26v1h-26zM1041 144h1v1h-1zM1237 144h3v1h-3zM1039 145h2v1h-2zM1240 145h3v1h-3zM1038 146h1v1h-1zM1243 146h4v1h-4zM1037 147h1v1h-1zM1247 147h3v1h-3zM1036 148h1v1h-1zM1250 148h9v1h-9zM1035 149h1v1h-1zM1259 149h16v1h-16zM1034 150h1v1h-1zM1275 150h16v1h-16zM1033 151h1v1h-1zM1291 151h32v1h-32zM1031 152h2v1h-2zM1323 152h10v1h-10zM1030 153h1v1h-1zM1333 153h4v1h-4zM1029 154h1v1h-1zM1337 154h4v1h-4zM1028 155h1v1h-1zM1341 155h4v1h-4zM1027 156h1v1h-1zM1345 156h5v1h-5zM1026 157h1v1h-1zM1350 157h5v1h-5zM1025 158h1v1h-1zM1355 158h6v1h-6zM1023 159h2v1h-2zM1361 159h6v1h-6zM1022 160h1v1h-1zM1367 160h8v1h-8zM1409 160h10v1h-10zM1021 161h1v1h-1zM1375 161h8v1h-8zM1403 161h6v1h-6zM1419 161h12v1h-12zM1020 162h1v1h-1zM1383 162h8v1h-8zM1398 162h5v1h-5zM1431 162h8v1h-8zM1019 163h1v1h-1zM1391 163h7v1h-7zM1439 163h5v1h-5zM1018 164h1v1h-1zM1017 165h1v1h-1zM1015 166h2v1h-2zM1014 167h1v1h-1zM1013 168h1v1h-1zM1012 169h1v1h-1zM1011 170h1v1h-1zM1009 171h2v1h-2zM1008 172h1v1h-1zM1006 173h2v1h-2zM1005 174h1v1h-1zM1003 175h2v1h-2zM1002 176h1v1h-1zM1001 177h1v1h-1zM999 178h2v1h-2zM998 179h1v1h-1zM996 180h2v1h-2zM995 181h1v1h-1zM993 182h2v1h-2zM991 183h2v1h-2zM989 184h2v1h-2zM987 185h2v1h-2zM986 186h1v1h-1zM984 187h2v1h-2zM982 188h2v1h-2zM980 189h2v1h-2zM978 190h2v1h-2zM975 191h3v1h-3zM971 192h4v1h-4zM968 193h3v1h-3zM965 194h3v1h-3zM962 195h3v1h-3zM959 196h3v1h-3zM957 197h2v1h-2zM954 198h3v1h-3zM951 199h3v1h-3zM949 200h2v1h-2zM946 201h3v1h-3zM944 202h2v1h-2zM942 203h2v1h-2zM939 204h3v1h-3zM937 205h2v1h-2zM935 206h2v1h-2zM671 207h12v1h-12zM933 207h2v1h-2zM663 208h8v1h-8zM683 208h12v1h-12zM930 208h3v1h-3zM657 209h6v1h-6zM695 209h8v1h-8zM769 209h6v1h-6zM928 209h2v1h-2zM653 210h4v1h-4zM703 210h12v1h-12zM731 210h12v1h-12zM763 210h6v1h-6zM775 210h8v1h-8zM926 210h2v1h-2zM649 211h4v1h-4zM715 211h16v1h-16zM743 211h8v1h-8zM758 211h5v1h-5zM783 211h7v1h-7zM924 211h2v1h-2zM645 212h4v1h-4zM751 212h7v1h-7zM790 212h5v1h-5zM922 212h2v1h-2zM641 213h4v1h-4zM795 213h6v1h-6zM920 213h2v1h-2zM635 214h6v1h-6zM801 214h6v1h-6zM831 214h23v1h-23zM918 214h2v1h-2zM630 215h5v1h-5zM807 215h8v1h-8zM823 215h8v1h-8zM854 215h5v1h-5zM916 215h2v1h-2zM625 216h5v1h-5zM815 216h8v1h-8zM859 216h6v1h-6zM911 216h5v1h-5zM619 217h6v1h-6zM865 217h26v1h-26zM903 217h8v1h-8zM614 218h5v1h-5zM891 218h12v1h-12zM609 219h5v1h-5zM603 220h6v1h-6zM598 221h5v1h-5zM593 222h5v1h-5zM587 223h6v1h-6zM582 224h5v1h-5zM578 225h4v1h-4zM576 226h2v1h-2zM574 227h2v1h-2zM571 228h3v1h-3zM569 229h2v1h-2zM567 230h2v1h-2zM565 231h2v1h-2zM563 232h2v1h-2zM562 233h1v1h-1zM561 234h1v1h-1zM559 235h2v1h-2zM558 236h1v1h-1zM557 237h1v1h-1zM556 238h1v1h-1zM555 239h1v1h-1zM554 240h1v1h-1zM553 241h1v1h-1zM551 242h2v1h-2zM550 243h1v1h-1zM549 244h1v1h-1zM548 245h1v1h-1zM547 246h1v1h-1zM545 247h2v1h-2zM544 248h1v1h-1zM543 249h1v1h-1zM541 250h2v1h-2zM540 251h1v1h-1zM539 252h1v1h-1zM537 253h2v1h-2zM536 254h1v1h-1zM535 255h1v1h-1zM533 256h2v1h-2zM532 257h1v1h-1zM531 258h1v1h-1zM529 259h2v1h-2zM528 260h1v1h-1zM527 261h1v1h-1zM525 262h2v1h-2zM524 263h1v1h-1zM523 264h1v1h-1zM521 265h2v1h-2zM520 266h1v1h-1zM519 267h1v1h-1zM517 268h2v1h-2zM516 269h1v1h-1zM515 270h1v1h-1zM514 271h1v1h-1zM513 272h1v1h-1zM513 273h1v1h-1zM512 274h1v1h-1zM511 275h1v1h-1zM510 276h1v1h-1zM509 277h1v1h-1zM509 278h1v1h-1zM508 279h1v1h-1zM507 280h1v1h-1zM506 281h1v1h-1zM505 282h1v1h-1zM505 283h1v1h-1zM504 284h1v1h-1zM503 285h1v1h-1zM502 286h1v1h-1zM501 287h1v1h-1zM501 288h1v1h-1zM500 289h1v1h-1zM499 290h1v1h-1zM498 291h1v1h-1zM498 292h1v1h-1zM497 293h1v1h-1zM496 294h1v1h-1zM496 295h1v1h-1zM495 296h1v1h-1zM495 297h1v1h-1zM494 298h1v1h-1zM493 299h1v1h-1zM493 300h1v1h-1zM492 301h1v1h-1zM491 302h1v1h-1zM491 303h1v1h-1zM490 304h1v1h-1zM489 305h1v1h-1zM489 306h1v1h-1zM488 307h1v1h-1zM487 308h1v1h-1zM487 309h1v1h-1zM486 310h1v1h-1zM486 311h1v1h-1zM485 312h1v1h-1zM484 313h1v1h-1zM484 314h1v1h-1zM483 315h1v1h-1zM482 316h1v1h-1zM482 317h1v1h-1zM481 318h1v1h-1zM481 319h1v1h-1zM480 320h1v1h-1zM479 321h1v1h-1zM479 322h1v1h-1zM478 323h1v1h-1zM478 324h1v1h-1zM477 325h1v1h-1zM476 326h1v1h-1zM476 327h1v1h-1zM475 328h1v1h-1zM475 329h1v1h-1zM474 330h1v1h-1zM474 331h1v1h-1zM473 332h1v1h-1zM472 333h1v1h-1zM472 334h1v1h-1zM471 335h1v1h-1zM471 336h1v1h-1zM470 337h1v1h-1zM469 338h1v1h-1zM469 339h1v1h-1zM468 340h1v1h-1zM468 341h1v1h-1zM467 342h1v1h-1zM466 343h1v1h-1zM466 344h1v1h-1zM465 345h1v1h-1zM464 346h1v1h-1zM464 347h1v1h-1zM463 348h1v1h-1zM463 349h1v1h-1zM462 350h1v1h-1zM461 351h1v1h-1zM461 352h1v1h-1zM460 353h1v1h-1zM459 354h1v1h-1zM459 355h1v1h-1zM458 356h1v1h-1zM457 357h1v1h-1zM457 358h1v1h-1zM456 359h1v1h-1zM455 360h1v1h-1zM455 361h1v1h-1zM454 362h1v1h-1zM454 363h1v1h-1zM453 364h1v1h-1zM452 365h1v1h-1zM452 366h1v1h-1zM451 367h1v1h-1zM450 368h1v1h-1zM449 369h1v1h-1zM448 370h1v1h-1zM447 371h1v1h-1zM446 372h1v1h-1zM445 373h1v1h-1zM444 374h1v1h-1zM443 375h1v1h-1zM443 376h1v1h-1zM442 377h1v1h-1zM441 378h1v1h-1zM440 379h1v1h-1zM439 380h1v1h-1zM438 381h1v1h-1zM437 382h1v1h-1zM436 383h1v1h-1zM435 384h1v1h-1zM434 385h1v1h-1zM433 386h1v1h-1zM432 387h1v1h-1zM431 388h1v1h-1zM431 389h1v1h-1zM430 390h1v1h-1zM429 391h1v1h-1zM428 392h1v1h-1zM427 393h1v1h-1zM426 394h1v1h-1zM425 395h1v1h-1zM424 396h1v1h-1zM423 397h1v1h-1zM423 398h1v1h-1zM422 399h1v1h-1zM421 400h1v1h-1zM420 401h1v1h-1zM419 402h1v1h-1zM418 403h1v1h-1zM417 404h1v1h-1zM415 405h2v1h-2zM414 406h1v1h-1zM413 407h1v1h-1zM412 408h1v1h-1zM411 409h1v1h-1zM410 410h1v1h-1zM409 411h1v1h-1zM407 412h2v1h-2zM406 413h1v1h-1zM405 414h1v1h-1zM404 415h1v1h-1zM403 416h1v1h-1zM401 417h2v1h-2zM399 418h2v1h-2zM398 419h1v1h-1zM396 420h2v1h-2zM395 421h1v1h-1zM393 422h2v1h-2zM391 423h2v1h-2zM390 424h1v1h-1zM388 425h2v1h-2zM387 426h1v1h-1zM386 427h1v1h-1zM385 428h1v1h-1zM384 429h1v1h-1zM383 430h1v1h-1zM382 431h1v1h-1zM381 432h1v1h-1zM379 433h2v1h-2zM378 434h1v1h-1zM377 435h1v1h-1zM376 436h1v1h-1zM375 437h1v1h-1zM374 438h1v1h-1zM162 439h9v1h-9zM373 439h1v1h-1zM159 440h3v1h-3zM171 440h10v1h-10zM372 440h1v1h-1zM155 441h4v1h-4zM181 441h2v1h-2zM371 441h1v1h-1zM152 442h3v1h-3zM183 442h3v1h-3zM369 442h2v1h-2zM149 443h3v1h-3zM186 443h3v1h-3zM368 443h1v1h-1zM145 444h4v1h-4zM189 444h2v1h-2zM366 444h2v1h-2zM139 445h6v1h-6zM191 445h3v1h-3zM365 445h1v1h-1zM134 446h5v1h-5zM194 446h2v1h-2zM363 446h2v1h-2zM113 447h21v1h-21zM196 447h1v1h-1zM362 447h1v1h-1zM107 448h6v1h-6zM197 448h2v1h-2zM361 448h1v1h-1zM102 449h5v1h-5zM199 449h1v1h-1zM359 449h2v1h-2zM98 450h4v1h-4zM200 450h1v1h-1zM358 450h1v1h-1zM96 451h2v1h-2zM201 451h1v1h-1zM356 451h2v1h-2zM94 452h2v1h-2zM202 452h1v1h-1zM355 452h1v1h-1zM91 453h3v1h-3zM203 453h2v1h-2zM353 453h2v1h-2zM89 454h2v1h-2zM205 454h1v1h-1zM352 454h1v1h-1zM87 455h2v1h-2zM206 455h1v1h-1zM351 455h1v1h-1zM85 456h2v1h-2zM207 456h1v1h-1zM349 456h2v1h-2zM83 457h2v1h-2zM208 457h2v1h-2zM348 457h1v1h-1zM82 458h1v1h-1zM210 458h1v1h-1zM347 458h1v1h-1zM81 459h1v1h-1zM211 459h2v1h-2zM345 459h2v1h-2zM80 460h1v1h-1zM213 460h2v1h-2zM344 460h1v1h-1zM79 461h1v1h-1zM215 461h3v1h-3zM343 461h1v1h-1zM79 462h1v1h-1zM218 462h3v1h-3zM341 462h2v1h-2zM78 463h1v1h-1zM221 463h2v1h-2zM340 463h1v1h-1zM77 464h1v1h-1zM223 464h3v1h-3zM339 464h1v1h-1zM76 465h1v1h-1zM226 465h3v1h-3zM337 465h2v1h-2zM75 466h1v1h-1zM229 466h4v1h-4zM335 466h2v1h-2zM74 467h1v1h-1zM233 467h4v1h-4zM333 467h2v1h-2zM73 468h1v1h-1zM237 468h4v1h-4zM331 468h2v1h-2zM72 469h1v1h-1zM241 469h4v1h-4zM330 469h1v1h-1zM71 470h1v1h-1zM245 470h2v1h-2zM328 470h2v1h-2zM71 471h1v1h-1zM247 471h2v1h-2zM326 471h2v1h-2zM70 472h1v1h-1zM249 472h2v1h-2zM324 472h2v1h-2zM69 473h1v1h-1zM251 473h3v1h-3zM322 473h2v1h-2zM68 474h1v1h-1zM254 474h2v1h-2zM320 474h2v1h-2zM67 475h1v1h-1zM256 475h2v1h-2zM318 475h2v1h-2zM66 476h1v1h-1zM258 476h3v1h-3zM315 476h3v1h-3zM65 477h1v1h-1zM261 477h2v1h-2zM313 477h2v1h-2zM63 478h2v1h-2zM263 478h3v1h-3zM311 478h2v1h-2zM62 479h1v1h-1zM266 479h3v1h-3zM309 479h2v1h-2zM61 480h1v1h-1zM269 480h2v1h-2zM299 480h10v1h-10zM60 481h1v1h-1zM271 481h3v1h-3zM283 481h16v1h-16zM59 482h1v1h-1zM274 482h9v1h-9z"/>
<rect x="3" y="80" width="1849" height="1" fill="#FF0000"/>
<rect x="3" y="128" width="1849" height="1" fill="#FF0000"/>
<rect x="3" y="175" width="1849" height="1" fill="#FF0000"/>
<rect x="3" y="221" width="1849" height="1" fill="#FF0000"/>
<rect x="3" y="126" width="5" height="5" fill="#FF0000"/>
<rect x="4" y="127" width="3" height="3" fill="#FFFFF0"/>
<rect x="1847" y="126" width="5" height="5" fill="#FF0000"/>
<rect x="1848" y="127" width="3" height="3" fill="#FFFFF0"/>
<rect x="3" y="173" width="5" height="5" fill="#FF0000"/>
<rect x="4" y="174" width="3" height="3" fill="#FFFFF0"/>
<rect x="1847" y="173" width="5" height="5" fill="#FF0000"/>
<rect x="1848" y="174" width="3" height="3" fill="#FFFFF0"/>
</g>
<g shape-rendering="crispEdges">
<rect x="3" y="664" width="1" height="6" fill="#008000"/>
<rect x="18" y="664" width="2" height="11" fill="#008000"/>
<rect x="34" y="664" width="2" height="15" fill="#008000"/>
<rect x="50" y="664" width="2" height="16" fill="#008000"/>
<rect x="66" y="664" width="2" height="17" fill="#008000"/>
<rect x="82" y="664" width="2" height="13" fill="#008000"/>
<rect x="98" y="664" width="2" height="10" fill="#008000"/>
<rect x="114" y="664" width="2" height="9" fill="#008000"/>
<rect x="130" y="664" width="2" height="5" fill="#008000"/>
<rect x="146" y="664" width="2" height="4" fill="#008000"/>
<rect x="162" y="664" width="2" height="1" fill="#FF0000"/>
<rect x="178" y="657" width="2" height="7" fill="#FF0000"/>
<rect x="194" y="647" width="2" height="17" fill="#FF0000"/>
<rect x="210" y="632" width="2" height="32" fill="#FF0000"/>
<rect x="226" y="624" width="2" height="40" fill="#FF0000"/>
<rect x="242" y="621" width="2" height="43" fill="#FF0000"/>
<rect x="258" y="613" width="2" height="51" fill="#FF0000"/>
<rect x="274" y="609" width="2" height="55" fill="#FF0000"/>
<rect x="290" y="615" width="2" height="49" fill="#FF0000"/>
<rect x="306" y="622" width="2" height="42" fill="#FF0000"/>
<rect x="322" y="630" width="2" height="34" fill="#FF0000"/>
<rect x="338" y="639" width="2" height="25" fill="#FF0000"/>
<rect x="354" y="648" width="2" height="16" fill="#FF0000"/>
<rect x="370" y="654" width="2" height="10" fill="#FF0000"/>
<rect x="386" y="659" width="2" height="5" fill="#FF0000"/>
<rect x="402" y="657" width="2" height="7" fill="#FF0000"/>
<rect x="418" y="656" width="2" height="8" fill="#FF0000"/>
<rect x="434" y="655" width="2" height="9" fill="#FF0000"/>
<rect x="450" y="652" width="2" height="12" fill="#FF0000"/>
<rect x="466" y="661" width="2" height="3" fill="#FF0000"/>
<rect x="482" y="664" width="2" height="8" fill="#008000"/>
<rect x="498" y="664" width="2" height="16" fill="#008000"/>
<rect x="514" y="664" width="2" height="33" fill="#008000"/>
<rect x="530" y="664" width="2" height="42" fill="#008000"/>
<rect x="546" y="664" width="2" height="42" fill="#008000"/>
<rect x="562" y="664" width="2" height="42" fill="#008000"/>
<rect x="578" y="664" width="2" height="39" fill="#008000"/>
<rect x="594" y="664" width="2" height="41" fill="#008000"/>
<rect x="610" y="664" width="2" height="48" fill="#008000"/>
<rect x="626" y="664" width="2" height="50" fill="#008000"/>
<rect x="642" y="664" width="2" height="47" fill="#008000"/>
<rect x="658" y="664" width="2" height="40" fill="#008000"/>
<rect x="674" y="664" width="2" height="41" fill="#008000"/>
<rect x="690" y="664" width="2" height="39" fill="#008000"/>
<rect x="706" y="664" width="2" height="38" fill="#008000"/>
<rect x="722" y="664" width="2" height="31" fill="#008000"/>
<rect x="738" y="664" width="2" height="22" fill="#008000"/>
<rect x="754" y="664" width="2" height="5" fill="#008000"/>
<rect x="770" y="659" width="2" height="5" fill="#FF0000"/>
<rect x="786" y="654" width="2" height="10" fill="#FF0000"/>
<rect x="802" y="648" width="2" height="16" fill="#FF0000"/>
<rect x="818" y="648" width="2" height="16" fill="#FF0000"/>
<rect x="834" y="648" width="2" height="16" fill="#FF0000"/>
<rect x="850" y="649" width="2" height="15" fill="#FF0000"/>
<rect x="866" y="648" width="2" height="16" fill="#FF0000"/>
<rect x="882" y="655" width="2" height="9" fill="#FF0000"/>
<rect x="898" y="658" width="2" height="6" fill="#FF0000"/>
<rect x="914" y="662" width="2" height="2" fill="#FF0000"/>
<rect x="930" y="664" width="2" height="3" fill="#008000"/>
<rect x="946" y="664" width="2" height="4" fill="#008000"/>
<rect x="962" y="664" width="2" height="7" fill="#008000"/>
<rect x="978" y="664" width="2" height="10" fill="#008000"/>
<rect x="994" y="664" width="2" height="20" fill="#008000"/>
<rect x="1010" y="664" width="2" height="23" fill="#008000"/>
<rect x="1026" y="664" width="2" height="25" fill="#008000"/>
<rect x="1042" y="664" width="2" height="22" fill="#008000"/>
<rect x="1058" y="664" width="2" height="20" fill="#008000"/>
<rect x="1074" y="664" width="2" height="17" fill="#008000"/>
<rect x="1090" y="664" width="2" height="11" fill="#008000"/>
<rect x="1106" y="664" width="2" height="18" fill="#008000"/>
<rect x="1122" y="664" width="2" height="21" fill="#008000"/>
<rect x="1138" y="664" width="2" height="18" fill="#008000"/>
<rect x="1154" y="664" width="2" height="21" fill="#008000"/>
<rect x="1170" y="664" width="2" height="18" fill="#008000"/>
<rect x="1186" y="664" width="2" height="14" fill="#008000"/>
<rect x="1202" y="664" width="2" height="13" fill="#008000"/>
<rect x="1218" y="664" width="2" height="12" fill="#008000"/>
<rect x="1234" y="664" width="2" height="10" fill="#008000"/>
<rect x="1250" y="664" width="2" height="14" fill="#008000"/>
<rect x="1266" y="664" width="2" height="15" fill="#008000"/>
<rect x="1282" y="664" width="2" height="13" fill="#008000"/>
<rect x="1298" y="664" width="2" height="13" fill="#008000"/>
<rect x="1314" y="664" width="2" height="12" fill="#008000"/>
<rect x="1330" y="664" width="2" height="11" fill="#008000"/>
<rect x="1346" y="664" width="2" height="12" fill="#008000"/>
<rect x="1362" y="664" width="2" height="12" fill="#008000"/>
<rect x="1378" y="664" width="2" height="13" fill="#008000"/>
<rect x="1394" y="664" width="2" height="12" fill="#008000"/>
<rect x="1410" y="664" width="2" height="10" fill="#008000"/>
<rect x="1426" y="664" width="2" height="7" fill="#008000"/>
<rect x="1442" y="664" width="2" height="7" fill="#008000"/>
<path fill="#0000FF" d="M449 497h4v1h-4zM443 498h6v1h-6zM453 498h2v1h-2zM438 499h5v1h-5zM455 499h2v1h-2zM433 500h5v1h-5zM457 500h2v1h-2zM427 501h6v1h-6zM459 501h3v1h-3zM422 502h5v1h-5zM462 502h2v1h-2zM417 503h5v1h-5zM464 503h2v1h-2zM411 504h6v1h-6zM466 504h3v1h-3zM406 505h5v1h-5zM469 505h2v1h-2zM402 506h4v1h-4zM471 506h2v1h-2zM399 507h3v1h-3zM473 507h2v1h-2zM395 508h4v1h-4zM475 508h3v1h-3zM392 509h3v1h-3zM478 509h2v1h-2zM319 510h28v1h-28zM389 510h3v1h-3zM480 510h2v1h-2zM311 511h8v1h-8zM347 511h42v1h-42zM482 511h3v1h-3zM305 512h6v1h-6zM485 512h2v1h-2zM301 513h4v1h-4zM487 513h2v1h-2zM297 514h4v1h-4zM489 514h2v1h-2zM293 515h4v1h-4zM491 515h3v1h-3zM289 516h4v1h-4zM494 516h2v1h-2zM285 517h4v1h-4zM496 517h2v1h-2zM281 518h4v1h-4zM498 518h2v1h-2zM277 519h4v1h-4zM500 519h1v1h-1zM275 520h2v1h-2zM501 520h1v1h-1zM274 521h1v1h-1zM502 521h1v1h-1zM272 522h2v1h-2zM503 522h1v1h-1zM271 523h1v1h-1zM504 523h1v1h-1zM270 524h1v1h-1zM505 524h1v1h-1zM269 525h1v1h-1zM506 525h1v1h-1zM267 526h2v1h-2zM507 526h1v1h-1zM266 527h1v1h-1zM508 527h1v1h-1zM265 528h1v1h-1zM509 528h1v1h-1zM264 529h1v1h-1zM510 529h1v1h-1zM263 530h1v1h-1zM511 530h1v1h-1zM261 531h2v1h-2zM512 531h1v1h-1zM260 532h1v1h-1zM513 532h1v1h-1zM259 533h1v1h-1zM514 533h1v1h-1zM257 534h2v1h-2zM515 534h1v1h-1zM256 535h1v1h-1zM516 535h2v1h-2zM254 536h2v1h-2zM518 536h1v1h-1zM253 537h1v1h-1zM519 537h2v1h-2zM251 538h2v1h-2zM521 538h1v1h-1zM250 539h1v1h-1zM522 539h1v1h-1zM249 540h1v1h-1zM523 540h2v1h-2zM247 541h2v1h-2zM525 541h1v1h-1zM246 542h1v1h-1zM526 542h2v1h-2zM244 543h2v1h-2zM528 543h1v1h-1zM242 544h2v1h-2zM529 544h2v1h-2zM240 545h2v1h-2zM531 545h2v1h-2zM238 546h2v1h-2zM533 546h3v1h-3zM236 547h2v1h-2zM536 547h3v1h-3zM234 548h2v1h-2zM539 548h4v1h-4zM232 549h2v1h-2zM543 549h3v1h-3zM230 550h2v1h-2zM546 550h3v1h-3zM228 551h2v1h-2zM549 551h2v1h-2zM227 552h1v1h-1zM551 552h3v1h-3zM225 553h2v1h-2zM554 553h3v1h-3zM224 554h1v1h-1zM557 554h2v1h-2zM222 555h2v1h-2zM559 555h3v1h-3zM221 556h1v1h-1zM562 556h4v1h-4zM219 557h2v1h-2zM566 557h5v1h-5zM218 558h1v1h-1zM571 558h6v1h-6zM217 559h1v1h-1zM577 559h3v1h-3zM215 560h2v1h-2zM580 560h2v1h-2zM214 561h1v1h-1zM582 561h2v1h-2zM212 562h2v1h-2zM584 562h2v1h-2zM211 563h1v1h-1zM586 563h1v1h-1zM210 564h1v1h-1zM587 564h2v1h-2zM209 565h1v1h-1zM589 565h2v1h-2zM208 566h1v1h-1zM591 566h2v1h-2zM207 567h1v1h-1zM593 567h2v1h-2zM206 568h1v1h-1zM595 568h1v1h-1zM205 569h1v1h-1zM596 569h1v1h-1zM204 570h1v1h-1zM597 570h1v1h-1zM203 571h1v1h-1zM598 571h1v1h-1zM202 572h1v1h-1zM599 572h1v1h-1zM201 573h1v1h-1zM600 573h1v1h-1zM200 574h1v1h-1zM601 574h1v1h-1zM199 575h1v1h-1zM602 575h1v1h-1zM198 576h1v1h-1zM603 576h2v1h-2zM197 577h1v1h-1zM605 577h1v1h-1zM196 578h1v1h-1zM606 578h1v1h-1zM194 579h2v1h-2zM607 579h1v1h-1zM3 580h2v1h-2zM192 580h2v1h-2zM608 580h1v1h-1zM5 581h3v1h-3zM190 581h2v1h-2zM609 581h1v1h-1zM8 582h3v1h-3zM188 582h2v1h-2zM610 582h1v1h-1zM11 583h4v1h-4zM186 583h2v1h-2zM611 583h1v1h-1zM15 584h3v1h-3zM184 584h2v1h-2zM612 584h2v1h-2zM18 585h3v1h-3zM182 585h2v1h-2zM614 585h1v1h-1zM21 586h4v1h-4zM180 586h2v1h-2zM615 586h2v1h-2zM25 587h4v1h-4zM178 587h2v1h-2zM617 587h1v1h-1zM29 588h4v1h-4zM176 588h2v1h-2zM618 588h1v1h-1zM33 589h6v1h-6zM174 589h2v1h-2zM619 589h2v1h-2zM39 590h8v1h-8zM171 590h3v1h-3zM621 590h1v1h-1zM47 591h7v1h-7zM169 591h2v1h-2zM622 591h2v1h-2zM54 592h5v1h-5zM167 592h2v1h-2zM624 592h1v1h-1zM59 593h6v1h-6zM75 593h32v1h-32zM165 593h2v1h-2zM625 593h2v1h-2zM65 594h10v1h-10zM107 594h58v1h-58zM627 594h2v1h-2zM629 595h2v1h-2zM865 595h6v1h-6zM631 596h2v1h-2zM859 596h6v1h-6zM871 596h8v1h-8zM633 597h2v1h-2zM854 597h5v1h-5zM879 597h28v1h-28zM635 598h3v1h-3zM849 598h5v1h-5zM907 598h12v1h-12zM638 599h2v1h-2zM843 599h6v1h-6zM919 599h8v1h-8zM640 600h2v1h-2zM838 600h5v1h-5zM927 600h12v1h-12zM642 601h4v1h-4zM827 601h11v1h-11zM939 601h12v1h-12zM646 602h5v1h-5zM815 602h12v1h-12zM951 602h8v1h-8zM651 603h6v1h-6zM807 603h8v1h-8zM959 603h7v1h-7zM657 604h3v1h-3zM801 604h6v1h-6zM966 604h5v1h-5zM660 605h2v1h-2zM795 605h6v1h-6zM971 605h6v1h-6zM662 606h2v1h-2zM790 606h5v1h-5zM977 606h3v1h-3zM664 607h2v1h-2zM785 607h5v1h-5zM980 607h2v1h-2zM666 608h2v1h-2zM781 608h4v1h-4zM982 608h1v1h-1zM668 609h2v1h-2zM777 609h4v1h-4zM983 609h2v1h-2zM670 610h2v1h-2zM773 610h4v1h-4zM985 610h2v1h-2zM672 611h2v1h-2zM770 611h3v1h-3zM987 611h1v1h-1zM674 612h3v1h-3zM767 612h3v1h-3zM988 612h2v1h-2zM677 613h2v1h-2zM765 613h2v1h-2zM990 613h1v1h-1zM679 614h3v1h-3zM762 614h3v1h-3zM991 614h2v1h-2zM682 615h3v1h-3zM759 615h3v1h-3zM993 615h2v1h-2zM685 616h2v1h-2zM757 616h2v1h-2zM995 616h2v1h-2zM687 617h3v1h-3zM754 617h3v1h-3zM997 617h3v1h-3zM690 618h3v1h-3zM752 618h2v1h-2zM1000 618h3v1h-3zM693 619h2v1h-2zM750 619h2v1h-2zM1003 619h4v1h-4zM695 620h3v1h-3zM748 620h2v1h-2zM1007 620h3v1h-3zM698 621h3v1h-3zM746 621h2v1h-2zM1010 621h3v1h-3zM701 622h2v1h-2zM744 622h2v1h-2zM1013 622h3v1h-3zM703 623h3v1h-3zM742 623h2v1h-2zM1016 623h3v1h-3zM706 624h4v1h-4zM740 624h2v1h-2zM1019 624h4v1h-4zM710 625h5v1h-5zM735 625h5v1h-5zM1023 625h3v1h-3zM715 626h6v1h-6zM727 626h8v1h-8zM1026 626h5v1h-5zM721 627h6v1h-6zM1031 627h8v1h-8zM1039 628h12v1h-12zM1051 629h16v1h-16zM1083 629h9v1h-9zM1067 630h16v1h-16zM1092 630h2v1h-2zM1094 631h2v1h-2zM1096 632h2v1h-2zM1098 633h2v1h-2zM1100 634h2v1h-2zM1102 635h2v1h-2zM1104 636h2v1h-2zM1106 637h2v1h-2zM1108 638h2v1h-2zM1110 639h2v1h-2zM1112 640h2v1h-2zM1114 641h2v1h-2zM1116 642h2v1h-2zM1118 643h2v1h-2zM1120 644h2v1h-2zM1122 645h19v1h-19zM1141 646h2v1h-2zM1143 647h3v1h-3zM1146 648h3v1h-3zM1149 649h2v1h-2zM1151 650h3v1h-3zM1154 651h41v1h-41zM1195 652h12v1h-12zM1207 653h8v1h-8zM1215 654h8v1h-8zM1223 655h8v1h-8zM1231 656h6v1h-6zM1237 657h2v1h-2zM1239 658h3v1h-3zM1242 659h3v1h-3zM1245 660h2v1h-2zM1247 661h3v1h-3zM1250 662h4v1h-4zM1254 663h5v1h-5zM1259 664h6v1h-6zM1265 665h10v1h-10zM1275 666h16v1h-16zM1291 667h12v1h-12zM1303 668h8v1h-8zM1311 669h23v1h-23zM1334 670h5v1h-5zM1339 671h6v1h-6zM1345 672h4v1h-4zM1349 673h4v1h-4zM1353 674h4v1h-4zM1357 675h4v1h-4zM1361 676h6v1h-6zM1367 677h8v1h-8zM1375 678h8v1h-8zM1383 679h8v1h-8zM1419 679h12v1h-12zM1391 680h28v1h-28zM1431 680h8v1h-8zM1439 681h5v1h-5z"/>
<path fill="#FF0000" d="M459 505h29v1h-29zM443 506h53v1h-53zM431 507h29v1h-29zM487 507h17v1h-17zM423 508h21v1h-21zM495 508h17v1h-17zM415 509h17v1h-17zM503 509h16v1h-16zM407 510h17v1h-17zM511 510h13v1h-13zM399 511h17v1h-17zM518 511h12v1h-12zM391 512h17v1h-17zM523 512h11v1h-11zM386 513h14v1h-14zM529 513h8v1h-8zM383 514h9v1h-9zM533 514h7v1h-7zM379 515h8v1h-8zM536 515h8v1h-8zM376 516h8v1h-8zM539 516h8v1h-8zM373 517h7v1h-7zM543 517h7v1h-7zM370 518h7v1h-7zM546 518h6v1h-6zM367 519h7v1h-7zM549 519h6v1h-6zM363 520h8v1h-8zM551 520h7v1h-7zM360 521h8v1h-8zM554 521h6v1h-6zM357 522h7v1h-7zM557 522h6v1h-6zM354 523h7v1h-7zM559 523h7v1h-7zM351 524h7v1h-7zM562 524h6v1h-6zM347 525h8v1h-8zM565 525h6v1h-6zM344 526h8v1h-8zM567 526h7v1h-7zM341 527h7v1h-7zM570 527h6v1h-6zM338 528h7v1h-7zM573 528h6v1h-6zM336 529h6v1h-6zM575 529h6v1h-6zM334 530h5v1h-5zM578 530h5v1h-5zM331 531h6v1h-6zM580 531h5v1h-5zM329 532h6v1h-6zM582 532h5v1h-5zM327 533h5v1h-5zM584 533h4v1h-4zM325 534h5v1h-5zM586 534h4v1h-4zM323 535h5v1h-5zM587 535h5v1h-5zM321 536h5v1h-5zM589 536h5v1h-5zM319 537h5v1h-5zM591 537h5v1h-5zM317 538h5v1h-5zM593 538h4v1h-4zM315 539h5v1h-5zM595 539h4v1h-4zM314 540h4v1h-4zM596 540h5v1h-5zM312 541h4v1h-4zM598 541h5v1h-5zM310 542h5v1h-5zM600 542h5v1h-5zM308 543h5v1h-5zM602 543h5v1h-5zM307 544h4v1h-4zM604 544h5v1h-5zM305 545h4v1h-4zM606 545h5v1h-5zM303 546h5v1h-5zM608 546h5v1h-5zM301 547h5v1h-5zM610 547h5v1h-5zM299 548h5v1h-5zM612 548h4v1h-4zM298 549h4v1h-4zM614 549h4v1h-4zM296 550h4v1h-4zM615 550h5v1h-5zM294 551h5v1h-5zM617 551h4v1h-4zM292 552h5v1h-5zM619 552h4v1h-4zM290 553h5v1h-5zM620 553h4v1h-4zM288 554h5v1h-5zM622 554h4v1h-4zM286 555h5v1h-5zM623 555h5v1h-5zM284 556h5v1h-5zM625 556h4v1h-4zM282 557h5v1h-5zM627 557h4v1h-4zM280 558h5v1h-5zM628 558h4v1h-4zM278 559h5v1h-5zM630 559h4v1h-4zM276 560h5v1h-5zM631 560h5v1h-5zM275 561h4v1h-4zM633 561h4v1h-4zM273 562h4v1h-4zM635 562h4v1h-4zM271 563h5v1h-5zM636 563h4v1h-4zM269 564h5v1h-5zM638 564h4v1h-4zM267 565h5v1h-5zM639 565h5v1h-5zM266 566h4v1h-4zM641 566h5v1h-5zM264 567h4v1h-4zM643 567h5v1h-5zM262 568h5v1h-5zM645 568h6v1h-6zM260 569h5v1h-5zM647 569h7v1h-7zM258 570h5v1h-5zM650 570h6v1h-6zM256 571h5v1h-5zM653 571h6v1h-6zM254 572h5v1h-5zM655 572h6v1h-6zM252 573h5v1h-5zM658 573h5v1h-5zM250 574h5v1h-5zM660 574h5v1h-5zM248 575h5v1h-5zM662 575h5v1h-5zM3 576h9v1h-9zM246 576h5v1h-5zM664 576h5v1h-5zM3 577h25v1h-25zM244 577h5v1h-5zM666 577h5v1h-5zM11 578h29v1h-29zM242 578h5v1h-5zM668 578h5v1h-5zM27 579h21v1h-21zM240 579h5v1h-5zM670 579h5v1h-5zM39 580h17v1h-17zM238 580h5v1h-5zM672 580h6v1h-6zM47 581h17v1h-17zM235 581h6v1h-6zM674 581h6v1h-6zM55 582h17v1h-17zM233 582h6v1h-6zM677 582h5v1h-5zM63 583h17v1h-17zM231 583h5v1h-5zM679 583h5v1h-5zM71 584h17v1h-17zM229 584h5v1h-5zM681 584h6v1h-6zM79 585h17v1h-17zM225 585h7v1h-7zM683 585h6v1h-6zM87 586h17v1h-17zM219 586h11v1h-11zM686 586h5v1h-5zM95 587h17v1h-17zM214 587h12v1h-12zM688 587h5v1h-5zM103 588h21v1h-21zM209 588h11v1h-11zM690 588h5v1h-5zM111 589h25v1h-25zM203 589h12v1h-12zM692 589h5v1h-5zM123 590h21v1h-21zM198 590h12v1h-12zM694 590h5v1h-5zM135 591h21v1h-21zM187 591h17v1h-17zM696 591h5v1h-5zM143 592h56v1h-56zM698 592h5v1h-5zM155 593h33v1h-33zM700 593h5v1h-5zM702 594h5v1h-5zM704 595h5v1h-5zM706 596h5v1h-5zM708 597h5v1h-5zM710 598h5v1h-5zM927 598h57v1h-57zM712 599h5v1h-5zM919 599h73v1h-73zM714 600h5v1h-5zM897 600h31v1h-31zM983 600h16v1h-16zM716 601h5v1h-5zM893 601h27v1h-27zM991 601h13v1h-13zM718 602h5v1h-5zM889 602h9v1h-9zM998 602h12v1h-12zM720 603h6v1h-6zM885 603h9v1h-9zM1003 603h11v1h-11zM722 604h6v1h-6zM881 604h9v1h-9zM1009 604h9v1h-9zM725 605h5v1h-5zM875 605h11v1h-11zM1013 605h9v1h-9zM727 606h5v1h-5zM870 606h12v1h-12zM1017 606h9v1h-9zM729 607h6v1h-6zM865 607h11v1h-11zM1021 607h10v1h-10zM731 608h6v1h-6zM859 608h12v1h-12zM1025 608h11v1h-11zM734 609h5v1h-5zM854 609h12v1h-12zM1030 609h12v1h-12zM736 610h7v1h-7zM849 610h11v1h-11zM1035 610h12v1h-12zM738 611h10v1h-10zM843 611h12v1h-12zM1041 611h11v1h-11zM742 612h12v1h-12zM838 612h12v1h-12zM1046 612h12v1h-12zM747 613h13v1h-13zM831 613h13v1h-13zM1051 613h11v1h-11zM753 614h15v1h-15zM823 614h16v1h-16zM1057 614h9v1h-9zM759 615h73v1h-73zM1061 615h9v1h-9zM767 616h57v1h-57zM1065 616h9v1h-9zM1069 617h10v1h-10zM1073 618h11v1h-11zM1078 619h12v1h-12zM1083 620h11v1h-11zM1089 621h9v1h-9zM1093 622h9v1h-9zM1097 623h9v1h-9zM1101 624h9v1h-9zM1105 625h9v1h-9zM1109 626h9v1h-9zM1113 627h9v1h-9zM1117 628h9v1h-9zM1121 629h9v1h-9zM1125 630h9v1h-9zM1129 631h9v1h-9zM1133 632h11v1h-11zM1137 633h15v1h-15zM1143 634h16v1h-16zM1151 635h13v1h-13zM1158 636h12v1h-12zM1163 637h11v1h-11zM1169 638h9v1h-9zM1173 639h9v1h-9zM1177 640h9v1h-9zM1181 641h15v1h-15zM1185 642h22v1h-22zM1195 643h17v1h-17zM1206 644h12v1h-12zM1211 645h12v1h-12zM1217 646h11v1h-11zM1222 647h12v1h-12zM1227 648h12v1h-12zM1233 649h11v1h-11zM1238 650h12v1h-12zM1243 651h13v1h-13zM1249 652h15v1h-15zM1255 653h17v1h-17zM1263 654h17v1h-17zM1271 655h16v1h-16zM1279 656h13v1h-13zM1286 657h12v1h-12zM1291 658h17v1h-17zM1297 659h23v1h-23zM1307 660h21v1h-21zM1319 661h17v1h-17zM1327 662h17v1h-17zM1335 663h16v1h-16zM1343 664h13v1h-13zM1350 665h12v1h-12zM1355 666h13v1h-13zM1361 667h15v1h-15zM1367 668h17v1h-17zM1375 669h17v1h-17zM1383 670h16v1h-16zM1391 671h13v1h-13zM1398 672h12v1h-12zM1403 673h29v1h-29zM1409 674h31v1h-31zM1431 675h14v1h-14zM1439 676h6v1h-6z"/>
</g>
<g shape-rendering="crispEdges" fill="#000000">
<rect x="2" y="2" width="1851" height="1"/>
<rect x="2" y="483" width="1851" height="1"/>
<rect x="2" y="2" width="1" height="482"/>
<rect x="1852" y="2" width="1" height="482"/>
<rect x="2" y="485" width="1851" height="1"/>
<rect x="2" y="724" width="1851" height="1"/>
<rect x="2" y="485" width="1" height="240"/>
<rect x="1852" y="485" width="1" height="240"/>
<rect x="1853" y="23" width="2" height="1"/>
<rect x="1853" y="72" width="2" height="1"/>
<rect x="1853" y="121" width="2" height="1"/>
<rect x="1853" y="170" width="2" height="1"/>
<rect x="1853" y="219" width="2" height="1"/>
<rect x="1853" y="268" width="2" height="1"/>
<rect x="1853" y="317" width="2" height="1"/>
<rect x="1853" y="366" width="2" height="1"/>
<rect x="1853" y="415" width="2" height="1"/>
<rect x="1853" y="464" width="2" height="1"/>
<rect x="1853" y="487" width="1" height="1"/>
<rect x="1853" y="664" width="1" height="1"/>
<rect x="1853" y="724" width="1" height="1"/>
<rect x="3" y="725" width="1" height="3"/>
<rect x="99" y="725" width="1" height="3"/>
<rect x="195" y="725" width="1" height="3"/>
<rect x="291" y="725" width="1" height="3"/>
<rect x="387" y="725" width="1" height="3"/>
<rect x="483" y="725" width="1" height="3"/>
<rect x="579" y="725" width="1" height="3"/>
<rect x="675" y="725" width="1" height="3"/>
<rect x="771" y="725" width="1" height="3"/>
<rect x="867" y="725" width="1" height="3"/>
<rect x="963" y="725" width="1" height="3"/>
<rect x="1059" y="725" width="1" height="3"/>
<rect x="1155" y="725" width="1" height="3"/>
<rect x="1251" y="725" width="1" height="3"/>
<rect x="1347" y="725" width="1" height="3"/>
<rect x="1443" y="725" width="1" height="3"/>
</g>
<g>
<text x="6" y="17" fill="#000000" textLength="63.48" lengthAdjust="spacing">USDJPY,H4</text>
<text x="77" y="17" fill="#000000" textLength="46.39" lengthAdjust="spacing">108.795</text>
<text x="127" y="17" fill="#000000" textLength="46.39" lengthAdjust="spacing">108.863</text>
<text x="176" y="17" fill="#000000" textLength="47.39" lengthAdjust="spacing">108.680</text>
<text x="226" y="17" fill="#000000" textLength="47.39" lengthAdjust="spacing">108.725</text>
<text x="6" y="501" fill="#000000" textLength="86.38" lengthAdjust="spacing">MACD(12,26,9)</text>
<text x="95" y="501" fill="#000000" textLength="42.70" lengthAdjust="spacing">-0.0510</text>
<text x="142" y="501" fill="#000000" textLength="42.70" lengthAdjust="spacing">-0.0367</text>
<text x="190" y="501" fill="#000000" textLength="39.70" lengthAdjust="spacing">0.0000</text>
<text x="231" y="501" fill="#000000" textLength="44.70" lengthAdjust="spacing">-0.0186</text>
<text x="1859" y="28" fill="#000000" textLength="46.39" lengthAdjust="spacing">109.730</text>
<text x="1859" y="77" fill="#000000" textLength="46.39" lengthAdjust="spacing">109.350</text>
<text x="1859" y="126" fill="#000000" textLength="46.39" lengthAdjust="spacing">108.975</text>
<text x="1859" y="175" fill="#000000" textLength="46.39" lengthAdjust="spacing">108.595</text>
<text x="1859" y="224" fill="#000000" textLength="46.39" lengthAdjust="spacing">108.215</text>
<text x="1859" y="273" fill="#000000" textLength="46.39" lengthAdjust="spacing">107.840</text>
<text x="1859" y="322" fill="#000000" textLength="46.39" lengthAdjust="spacing">107.465</text>
<text x="1859" y="371" fill="#000000" textLength="46.39" lengthAdjust="spacing">107.085</text>
<text x="1859" y="420" fill="#000000" textLength="46.39" lengthAdjust="spacing">106.710</text>
<text x="1859" y="469" fill="#000000" textLength="46.39" lengthAdjust="spacing">106.330</text>
<text x="1856" y="499" fill="#000000" textLength="37.70" lengthAdjust="spacing">0.5514</text>
<text x="1856" y="669" fill="#000000" textLength="24.36" lengthAdjust="spacing">0.00</text>
<text x="1855" y="721" fill="#000000" textLength="43.70" lengthAdjust="spacing">-0.1843</text>
<text x="1" y="740" fill="#000000" textLength="62.70" lengthAdjust="spacing">2 Mar 2021</text>
<text x="97" y="740" fill="#000000" textLength="66.05" lengthAdjust="spacing">3 Mar 12:00</text>
<text x="194" y="740" fill="#000000" textLength="65.05" lengthAdjust="spacing">4 Mar 12:00</text>
<text x="289" y="740" fill="#000000" textLength="66.05" lengthAdjust="spacing">5 Mar 12:00</text>
<text x="386" y="740" fill="#000000" textLength="65.05" lengthAdjust="spacing">8 Mar 08:00</text>
<text x="481" y="740" fill="#000000" textLength="66.05" lengthAdjust="spacing">9 Mar 08:00</text>
<text x="577" y="740" fill="#000000" textLength="74.72" lengthAdjust="spacing">10 Mar 08:00</text>
<text x="673" y="740" fill="#000000" textLength="73.83" lengthAdjust="spacing">11 Mar 08:00</text>
<text x="769" y="740" fill="#000000" textLength="74.72" lengthAdjust="spacing">12 Mar 08:00</text>
<text x="865" y="740" fill="#000000" textLength="74.72" lengthAdjust="spacing">15 Mar 04:00</text>
<text x="961" y="740" fill="#000000" textLength="74.72" lengthAdjust="spacing">16 Mar 04:00</text>
<text x="1057" y="740" fill="#000000" textLength="74.72" lengthAdjust="spacing">17 Mar 04:00</text>
<text x="1153" y="740" fill="#000000" textLength="74.72" lengthAdjust="spacing">18 Mar 04:00</text>
<text x="1249" y="740" fill="#000000" textLength="74.72" lengthAdjust="spacing">19 Mar 04:00</text>
<text x="1345" y="740" fill="#000000" textLength="74.72" lengthAdjust="spacing">22 Mar 00:00</text>
<text x="1441" y="740" fill="#000000" textLength="74.72" lengthAdjust="spacing">23 Mar 00:00</text>
</g>
<g shape-rendering="crispEdges">
<rect x="1854" y="74" width="56" height="14" fill="#FF0000"/>
<rect x="1854" y="122" width="56" height="14" fill="#FF0000"/>
<rect x="1854" y="146" width="56" height="14" fill="#000000"/>
<rect x="1854" y="169" width="56" height="14" fill="#FF0000"/>
<rect x="1854" y="215" width="56" height="14" fill="#FF0000"/>
</g>
<text x="1859" y="86" fill="#FFFFFF" textLength="46.39" lengthAdjust="spacing">109.292</text>
<text x="1859" y="134" fill="#FFFFFF" textLength="46.39" lengthAdjust="spacing">108.920</text>
<text x="1859" y="158" fill="#FFFFFF" textLength="46.39" lengthAdjust="spacing">108.725</text>
<text x="1859" y="181" fill="#FFFFFF" textLength="46.39" lengthAdjust="spacing">108.560</text>
<text x="1859" y="227" fill="#FFFFFF" textLength="46.39" lengthAdjust="spacing">108.208</text>
</svg></body></html>
